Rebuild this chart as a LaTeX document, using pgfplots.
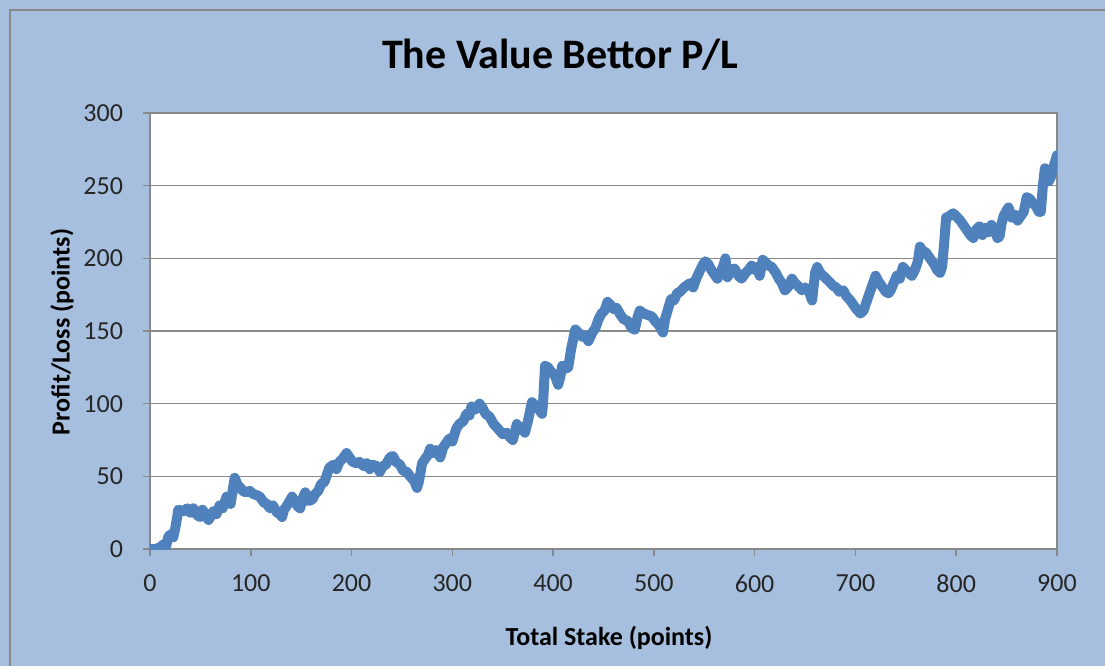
\documentclass[border=0pt]{standalone}
\usepackage{fontspec}
\setmainfont{Carlito}
\usepackage{pgfplots}
\pgfplotsset{compat=1.18}
\definecolor{bg}{HTML}{A7BFDE}
\definecolor{gridc}{HTML}{898989}
\definecolor{linec}{HTML}{4F81BD}
\begin{document}
\begin{tikzpicture}
\useasboundingbox (0pt,0pt) rectangle (552.5pt,333pt);
\fill[bg] (0pt,0pt) rectangle (552.5pt,333pt);
\draw[gridc, line width=0.75pt] (5pt,0pt) -- (5pt,328pt) -- (552.5pt,328pt);
\begin{axis}[
  at={(75pt,58.5pt)}, anchor=south west,
  scale only axis, width=453.5pt, height=218pt,
  xmin=0, xmax=900, ymin=0, ymax=300,
  xtick={0,100,...,900}, ytick={0,50,...,300},
  ymajorgrids,
  grid style={gridc, line width=0.75pt},
  axis line style={gridc, line width=0.75pt},
  tick style={gridc, line width=0.75pt},
  tick align=outside, major tick length=3.5pt,
  xtick pos=lower, ytick pos=left,
  axis background/.style={fill=white},
  tick label style={font=\fontsize{13}{15}\selectfont, text=black!85},
  yticklabel style={xshift=-6.5pt},
  xticklabel style={yshift=-6pt},
  /pgf/number format/assume math mode=true,
  /pgf/number format/1000 sep={},
]
\addplot[linec, line width=5pt, line join=round, line cap=round] coordinates {
(0,0) (5,0) (10,1) (13,3) (16,2) (18,8) (20,10) (23,8) (25,14) (27,22) (28,27)
(33,26) (37,28) (40,25) (43,28) (47,23) (50,22) (52,27) (55,24) (58,20) (60,22)
(63,26) (66,24) (69,30) (72,28) (76,36) (78,33) (80,31) (82,40) (84,49) (87,44)
(90,42) (92,40) (95,39) (99,40) (102,38) (106,37) (109,36) (113,32) (116,31)
(119,28) (122,30) (126,25) (129,24) (131,22) (133,27) (136,30) (141,36) (144,32)
(147,29) (149,28) (151,34) (154,39) (157,33) (161,34) (164,38) (167,40) (170,45)
(173,46) (176,52) (178,56) (182,58) (185,55) (188,60) (191,62) (195,66) (198,63)
(201,60) (205,59) (208,60) (212,57) (215,59) (218,55) (221,58) (225,57) (228,53)
(231,57) (234,58) (238,63) (241,64) (244,60) (248,58) (251,54) (255,53) (258,50)
(262,47) (265,42) (267,47) (270,59) (273,62) (276,65) (278,69) (281,66) (284,68)
(288,63) (291,70) (294,73) (297,76) (300,74) (304,83) (307,86) (311,88) (314,93)
(317,92) (319,98) (323,96) (327,100) (330,97) (333,93) (337,91) (341,86) (345,83)
(350,79) (354,80) (357,77) (360,75) (364,86) (366,82) (369,84) (372,80) (375,88)
(379,101) (382,99) (386,96) (389,93) (390,100) (392,126) (395,125) (398,122)
(402,119) (405,113) (407,118) (409,126) (412,124) (415,125) (418,138) (422,151)
(425,149) (429,146) (432,147) (435,143) (439,149) (442,152) (445,158) (448,162)
(451,164) (454,170) (457,168) (460,165) (463,166) (466,162) (470,158) (474,157)
(478,152) (481,151) (484,160) (486,164) (490,162) (494,161) (498,160) (501,157)
(505,154) (509,149) (511,158) (514,165) (517,172) (520,171) (523,176) (526,177)
(530,180) (534,182) (536,183) (539,180) (542,186) (546,192) (549,196) (551,198)
(554,196) (557,192) (560,189) (563,186) (566,190) (569,195) (571,200) (573,187)
(577,192) (580,193) (584,188) (587,186) (591,190) (594,192) (597,195) (600,192)
(603,194) (605,188) (608,199) (611,197) (614,195) (617,194) (621,190) (624,186)
(627,183) (630,178) (633,180) (637,186) (640,183) (643,181) (647,178) (650,180)
(654,177) (657,171) (660,190) (662,194) (665,190) (668,188) (671,186) (674,184)
(678,181) (681,180) (684,177) (688,178) (691,174) (695,171) (698,168) (701,165)
(705,162) (708,164) (711,170) (714,176) (717,182) (720,188) (723,184) (727,180)
(730,177) (733,176) (735,178) (738,183) (741,188) (744,186) (747,194) (750,192)
(753,190) (756,188) (759,192) (762,198) (764,208) (767,205) (770,204) (774,200)
(778,196) (781,192) (784,190) (786,194) (788,210) (790,228) (793,229) (797,231)
(800,229) (804,226) (808,222) (811,219) (814,216) (817,214) (820,220) (823,222)
(826,216) (829,221) (832,218) (835,223) (838,219) (841,214) (843,215) (845,224)
(847,229) (850,233) (852,235) (855,228) (858,230) (861,226) (864,229) (867,232)
(870,242) (873,241) (876,238) (879,236) (882,232) (884,232) (886,250) (888,262)
(890,258) (892,253) (894,256) (896,262) (898,266) (900,271)
};
\end{axis}
\node[font=\bfseries\fontsize{21}{24}\selectfont] at (280pt,305.5pt) {The Value Bettor P/L};
\node[font=\bfseries\fontsize{13}{15}\selectfont] at (304.5pt,14pt) {Total Stake (points)};
\node[font=\bfseries\fontsize{13}{15}\selectfont, rotate=90] at (31pt,167pt) {Profit/Loss (points)};
\end{tikzpicture}
\end{document}
